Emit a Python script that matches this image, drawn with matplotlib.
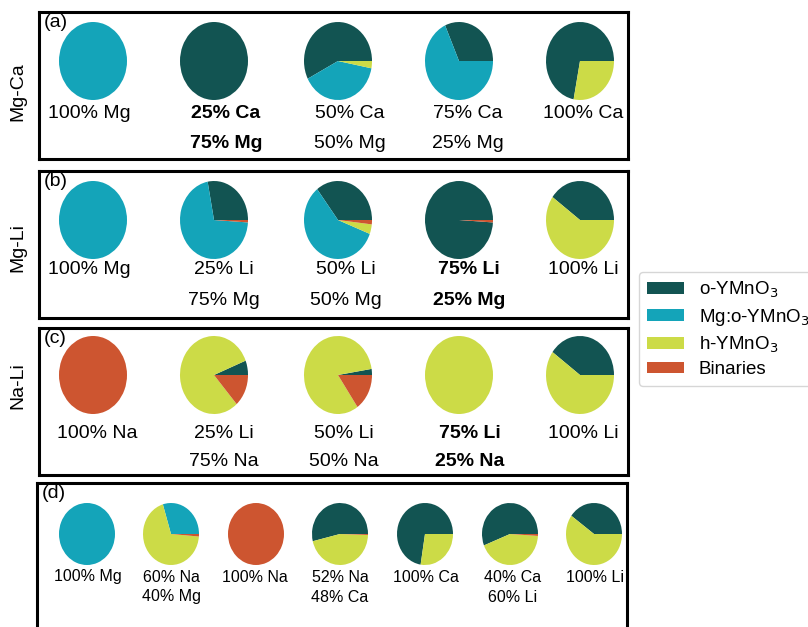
import numpy as np
import matplotlib.pyplot as plt
from matplotlib.patches import Patch

plt.rcParams['font.family'] = ['Liberation Sans', 'DejaVu Sans']

W, H = 808, 627

# phases, in pie order (counter-clockwise from 3 o'clock)
phases = ['o-YMnO$_3$', 'Mg:o-YMnO$_3$', 'h-YMnO$_3$', 'Binaries']
colors = ['#125452', '#14a4b9', '#ccdb47', '#cd5530']

# phase fractions  [o, Mg:o, h, binaries]
fr_a = [[0, 1, 0, 0], [1, 0, 0, 0], [0.575, 0.395, 0.03, 0],
        [0.317, 0.683, 0, 0], [0.72, 0, 0.28, 0]]
fr_b = [[0, 1, 0, 0], [0.28, 0.71, 0, 0.01], [0.355, 0.587, 0.04, 0.018],
        [0.99, 0, 0, 0.01], [0.40, 0, 0.60, 0]]
fr_c = [[0, 0, 0, 1], [0.06, 0, 0.806, 0.134], [0.025, 0, 0.822, 0.153],
        [0, 0, 1, 0], [0.40, 0, 0.60, 0]]
fr_d = [[0, 1, 0, 0], [0, 0.297, 0.69, 0.013], [0, 0, 0, 1],
        [0.5375, 0, 0.4575, 0.005], [0.725, 0, 0.275, 0],
        [0.56, 0, 0.43, 0.01], [0.40, 0, 0.60, 0]]

lab_a = [('100% Mg', ''), ('25% Ca', '75% Mg'), ('50% Ca', '50% Mg'),
         ('75% Ca', '25% Mg'), ('100% Ca', '')]
lab_b = [('100% Mg', ''), ('25% Li', '75% Mg'), ('50% Li', '50% Mg'),
         ('75% Li', '25% Mg'), ('100% Li', '')]
lab_c = [('100% Na', ''), ('25% Li', '75% Na'), ('50% Li', '50% Na'),
         ('75% Li', '25% Na'), ('100% Li', '')]
lab_d = [('100% Mg', ''), ('60% Na', '40% Mg'), ('100% Na', ''),
         ('52% Na', '48% Ca'), ('100% Ca', ''), ('40% Ca', '60% Li'),
         ('100% Li', '')]
bold_a, bold_b, bold_c = 1, 3, 3
systems = ['Mg-Ca', 'Mg-Li', 'Na-Li']

fig = plt.figure(figsize=(W / 100, H / 100), dpi=100)


def px_axes(x0, y0, w, h):
    return fig.add_axes([x0 / W, 1 - (y0 + h) / H, w / W, h / H])


def px_text(x, y, s, **kw):
    fig.text(x / W, 1 - y / H, s, **kw)


def box(x0, y0, w, h, tag):
    ax = px_axes(x0, y0, w, h)
    ax.set_xticks([])
    ax.set_yticks([])
    for sp in ax.spines.values():
        sp.set_linewidth(2.2)
    ax.text(0.008, 0.985, tag, transform=ax.transAxes, ha='left', va='top',
            fontsize=14)
    return ax


def pie(cx, cy, w, h, fr):
    # pies are slightly stretched vertically, as in the original figure
    ax = px_axes(cx - w / 2, cy - h / 2, w, h)
    ax.pie(fr, colors=colors, startangle=0, counterclock=True,
           wedgeprops=dict(linewidth=0))
    ax.set_xlim(-1, 1)
    ax.set_ylim(-1, 1)
    ax.set_aspect('auto')


# panels a-c
pie_x = [93, 214, 338, 459, 580]
rows = [
    (12, 'a', fr_a, lab_a, bold_a, 61, 92, [89, 226, 350, 468, 583], 113, 143),
    (171, 'b', fr_b, lab_b, bold_b, 220, 247, [89, 224, 346, 469, 583], 269, 300),
    (328, 'c', fr_c, lab_c, bold_c, 375, 386, [97, 224, 344, 470, 583], 434, 462),
]
for i, (top, tag, fr, lab, bold, cy, sy, tx, y1, y2) in enumerate(rows):
    box(39, top, 589, 147, f'({tag})')
    px_text(18, sy, systems[i], rotation=90, ha='center', va='center',
            fontsize=14)
    for j in range(5):
        pie(pie_x[j], cy, 68, 78, fr[j])
        w = 'bold' if j == bold else 'normal'
        l1, l2 = lab[j]
        px_text(tx[j], y1, l1, ha='center', va='center', fontsize=14,
                fontweight=w)
        if l2:
            px_text(tx[j], y2, l2, ha='center', va='center', fontsize=14,
                    fontweight=w)

# panel d
box(37, 483, 590, 160, '(d)')
pie_xd = [87, 171, 256, 340, 425, 510, 594]
tx_d = [88, 171, 255, 340, 426, 513, 595]
for j in range(7):
    pie(pie_xd[j], 534, 56, 62, fr_d[j])
    l1, l2 = lab_d[j]
    px_text(tx_d[j], 577, l1, ha='center', va='center', fontsize=11.5)
    if l2:
        px_text(tx_d[j], 597, l2, ha='center', va='center', fontsize=11.5)

handles = [Patch(facecolor=c, label=p) for c, p in zip(colors, phases)]
fig.legend(handles=handles, loc='center left',
           bbox_to_anchor=(639 / W, 1 - 329 / H), fontsize=13.5,
           frameon=True, handlelength=2.0, handleheight=0.6,
           labelspacing=0.35, borderaxespad=0)

fig.savefig('out.png', dpi=100)
